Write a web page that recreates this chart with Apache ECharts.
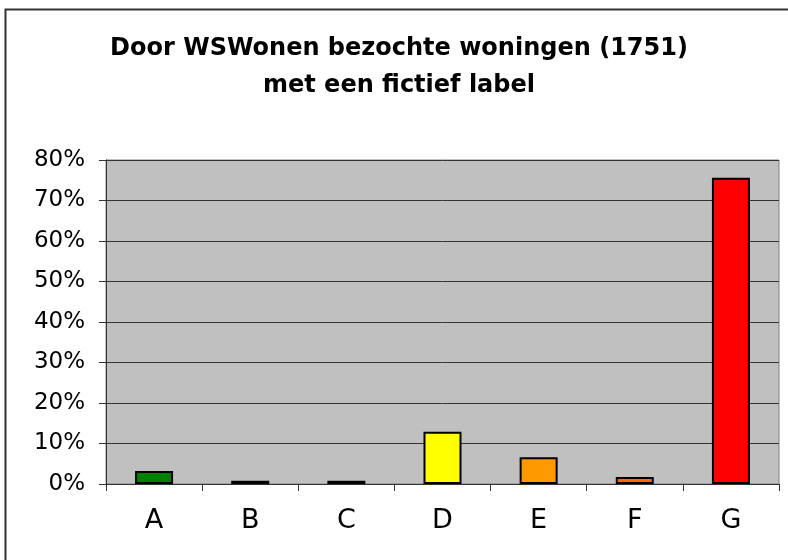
<!DOCTYPE html>
<html>
<head>
<meta charset="utf-8">
<script src="https://cdn.jsdelivr.net/npm/echarts@6/dist/echarts.min.js"></script>
<style>html,body{margin:0;padding:0;background:#fff;}#c{width:788px;height:560px;}</style>
</head>
<body>
<div id="c"></div>
<script>
var categories = ['A', 'B', 'C', 'D', 'E', 'F', 'G'];
var values = [3.2, 0.8, 0.8, 12.9, 6.6, 1.7, 75.6];
var barColors = ['#008000', '#00B050', '#92D050', '#FFFF00', '#FF9900', '#FF6600', '#FF0000'];
var yTicks = [0, 10, 20, 30, 40, 50, 60, 70, 80];
var titleText = 'Door WSWonen bezochte woningen (1751)\nmet een fictief label';

var chart = echarts.init(document.getElementById('c'), null, {renderer: 'canvas'});
var FONT = '"DejaVu Sans", "Liberation Sans", Arial, sans-serif';
chart.setOption({
  animation: false,
  backgroundColor: '#fff',
  title: {
    text: titleText,
    left: 394,
    top: 25,
    textAlign: 'center',
    textStyle: {fontFamily: FONT, fontSize: 24, fontWeight: 'bold', color: '#000', lineHeight: 37}
  },
  graphic: [{
    type: 'rect', shape: {x: 5.5, y: 9.5, width: 800, height: 600},
    style: {fill: 'none', stroke: '#333', lineWidth: 2}, z: 100
  }],
  grid: {left: 106, top: 160, right: 9, bottom: 76, show: true, backgroundColor: '#C0C0C0', borderColor: '#808080', borderWidth: 1},
  xAxis: {
    type: 'category', data: categories,
    axisLine: {show: true, lineStyle: {color: '#333', width: 1}},
    axisTick: {show: true, length: 7, lineStyle: {color: '#333'}},
    axisLabel: {fontFamily: FONT, fontSize: 27, color: '#000', margin: 23}
  },
  yAxis: {
    type: 'value', min: yTicks[0], max: yTicks[yTicks.length - 1], interval: 10,
    axisLine: {show: true, lineStyle: {color: '#333', width: 1}},
    axisTick: {show: true, length: 7, lineStyle: {color: '#333'}},
    splitLine: {show: true, lineStyle: {color: '#333', width: 1}},
    axisLabel: {fontFamily: FONT, fontSize: 23, color: '#000', margin: 21, formatter: '{value}%'}
  },
  series: [{
    type: 'bar', barWidth: 38,
    data: values.map(function (v, i) { return {value: v, itemStyle: {color: barColors[i]}}; }),
    itemStyle: {borderColor: '#000', borderWidth: 2}
  }]
});
</script>
</body>
</html>
